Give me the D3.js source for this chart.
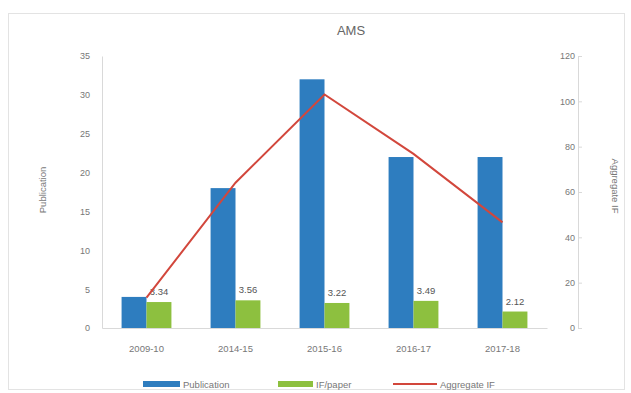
<!DOCTYPE html>
<html>
<head>
<meta charset="utf-8">
<script src="https://cdn.jsdelivr.net/npm/d3@7"></script>
<style>
  html, body { margin: 0; padding: 0; background: #fff; }
  svg { display: block; font-family: "Liberation Sans", Arial, sans-serif; }
</style>
</head>
<body>
<svg id="chart" width="631" height="393"></svg>
<script>
// AMS: publications per year, impact factor per paper and aggregate impact factor
const categories   = ["2009-10", "2014-15", "2015-16", "2016-17", "2017-18"];
const publications = [4, 18, 32, 22, 22];
const ifPerPaper   = [3.34, 3.56, 3.22, 3.49, 2.12];
const aggregateIF  = [13.4, 64.1, 103.0, 76.8, 46.6];
const leftTicks    = [0, 5, 10, 15, 20, 25, 30, 35];
const rightTicks   = [0, 20, 40, 60, 80, 100, 120];

const svg = d3.select("#chart");
const plot = { left: 102, right: 547, top: 56, bottom: 328 };
const rightAxisX = 578;

const colors = { pub: "#2e7dbf", ifp: "#8dc03f", agg: "#d2473c", text: "#777", line: "#d9d9d9" };

// outer frame
svg.append("rect")
  .attr("x", 8.5).attr("y", 13.5).attr("width", 616).attr("height", 376)
  .attr("fill", "none").attr("stroke", "#e3e3e3");

const x = d3.scaleBand().domain(categories).range([plot.left, plot.right]).paddingInner(0.44).paddingOuter(0.22);
const sub = d3.scaleBand().domain(["pub", "ifp"]).range([0, x.bandwidth()]);
const yL = d3.scaleLinear().domain([0, 35]).range([plot.bottom, plot.top]);
const yR = d3.scaleLinear().domain([0, 120]).range([plot.bottom, plot.top]);

// left axis
const gL = svg.append("g").attr("transform", `translate(${plot.left},0)`)
  .call(d3.axisLeft(yL).tickValues(leftTicks).tickSize(0).tickPadding(12));
gL.select(".domain").attr("stroke", colors.line);
gL.selectAll("text").attr("fill", colors.text).attr("font-size", 9);

// right axis
const gR = svg.append("g").attr("transform", `translate(${rightAxisX},0)`)
  .call(d3.axisLeft(yR).tickValues(rightTicks).tickSize(-4).tickPadding(3));
gR.select(".domain").attr("stroke", colors.line);
gR.selectAll(".tick line").attr("stroke", colors.line);
gR.selectAll("text").attr("fill", colors.text).attr("font-size", 9);

// bars
const groups = svg.append("g").selectAll("g").data(categories).join("g")
  .attr("transform", d => `translate(${x(d)},0)`);
groups.append("rect")
  .attr("x", sub("pub")).attr("width", sub.bandwidth())
  .attr("y", (d, i) => yL(publications[i]))
  .attr("height", (d, i) => yL(0) - yL(publications[i]))
  .attr("fill", colors.pub);
groups.append("rect")
  .attr("x", sub("ifp")).attr("width", sub.bandwidth())
  .attr("y", (d, i) => yL(ifPerPaper[i]))
  .attr("height", (d, i) => yL(0) - yL(ifPerPaper[i]))
  .attr("fill", colors.ifp);

// x axis
const gX = svg.append("g").attr("transform", `translate(0,${plot.bottom})`)
  .call(d3.axisBottom(x).tickSize(0).tickPadding(17));
gX.select(".domain").attr("stroke", colors.line);
gX.selectAll("text").attr("fill", colors.text).attr("font-size", 9.5);

// aggregate IF line
const line = d3.line()
  .x((d, i) => x(categories[i]) + x.bandwidth() / 2)
  .y(d => yR(d));
svg.append("path").datum(aggregateIF)
  .attr("d", line).attr("fill", "none")
  .attr("stroke", colors.agg).attr("stroke-width", 2);

// value labels for IF/paper
groups.append("text")
  .attr("x", sub("ifp") + sub.bandwidth() / 2)
  .attr("y", (d, i) => yL(ifPerPaper[i]) - 7)
  .attr("text-anchor", "middle")
  .attr("fill", "#555").attr("font-size", 9.5)
  .text((d, i) => ifPerPaper[i].toFixed(2));

// title
svg.append("text").attr("x", 351).attr("y", 35).attr("text-anchor", "middle")
  .attr("fill", "#666").attr("font-size", 13).text("AMS");

// axis titles
svg.append("text").attr("transform", "translate(46,190) rotate(-90)")
  .attr("text-anchor", "middle").attr("fill", colors.text).attr("font-size", 9.5).text("Publication");
svg.append("text").attr("transform", "translate(612,186) rotate(90)")
  .attr("text-anchor", "middle").attr("fill", colors.text).attr("font-size", 9.5).text("Aggregate IF");

// legend
const legendY = 384;
const legend = svg.append("g");
legend.append("rect").attr("x", 143).attr("y", legendY - 3).attr("width", 37).attr("height", 6).attr("fill", colors.pub);
legend.append("text").attr("x", 183).attr("y", legendY + 3.5).attr("fill", colors.text).attr("font-size", 9.5).text("Publication");
legend.append("rect").attr("x", 278).attr("y", legendY - 3).attr("width", 35).attr("height", 6).attr("fill", colors.ifp);
legend.append("text").attr("x", 316).attr("y", legendY + 3.5).attr("fill", colors.text).attr("font-size", 9.5).text("IF/paper");
legend.append("line").attr("x1", 393).attr("x2", 437).attr("y1", legendY).attr("y2", legendY)
  .attr("stroke", colors.agg).attr("stroke-width", 2);
legend.append("text").attr("x", 440).attr("y", legendY + 3.5).attr("fill", colors.text).attr("font-size", 9.5).text("Aggregate IF");
</script>
</body>
</html>
